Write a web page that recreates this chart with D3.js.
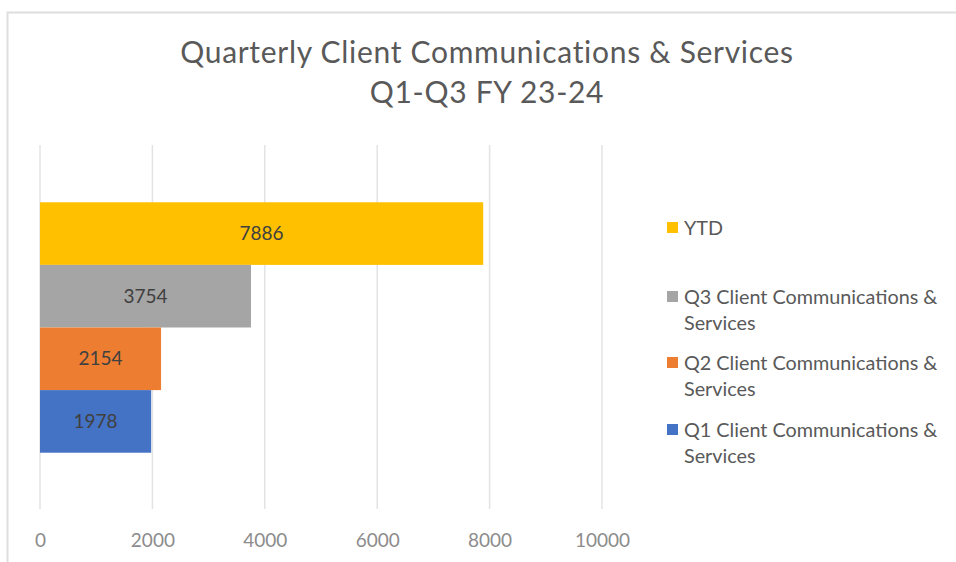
<!DOCTYPE html>
<html>
<head>
<meta charset="utf-8">
<script src="https://cdn.jsdelivr.net/npm/d3@7"></script>
<style>
  body { margin: 0; background: #fff; }
  svg { display: block; font-family: Lato, "Open Sans", sans-serif; }
</style>
</head>
<body>
<div id="chart"></div>
<script>
// Chart data
const titleLines = ["Quarterly Client Communications & Services", "Q1-Q3 FY 23-24"];
const categories = ["Client Communications & Services"];
const seriesNames = ["YTD", "Q3 Client Communications & Services", "Q2 Client Communications & Services", "Q1 Client Communications & Services"];
const seriesValues = [7886, 3754, 2154, 1978];
const seriesColors = ["#FFC000", "#A5A5A5", "#ED7D31", "#4472C4"];
const xTicks = [0, 2000, 4000, 6000, 8000, 10000];

const width = 956, height = 562;
const margin = { top: 145, right: 354, bottom: 50, left: 40 };
const plotW = width - margin.left - margin.right;
const plotH = height - margin.top - margin.bottom;

const svg = d3.select("#chart").append("svg")
    .attr("width", width)
    .attr("height", height);

// chart border (runs off the right and bottom edges)
svg.append("rect")
    .attr("x", 7.5).attr("y", 12.5)
    .attr("width", 1000).attr("height", 600)
    .attr("fill", "none")
    .attr("stroke", "#dedede")
    .attr("stroke-width", 2);

// title
svg.append("text")
    .attr("text-anchor", "middle")
    .attr("fill", "#595959")
    .style("font-size", "30px")
    .style("letter-spacing", "0.7px")
    .selectAll("tspan")
    .data(titleLines)
    .enter()
    .append("tspan")
    .attr("x", 487)
    .attr("y", (d, i) => 63 + i * 40)
    .text(d => d);

const g = svg.append("g")
    .attr("transform", `translate(${margin.left},${margin.top})`);

const xScale = d3.scaleLinear()
    .domain([0, 10000])
    .range([0, 562]);

// one category, series side by side inside it
const yCat = d3.scaleBand()
    .domain(categories)
    .range([0, plotH - 2]);

const ySeries = d3.scaleBand()
    .domain(seriesNames)
    .range([0, yCat.bandwidth()])
    .paddingOuter(0.915);

// gridlines
g.selectAll(".grid")
    .data(xTicks)
    .enter()
    .append("line")
    .attr("class", "grid")
    .attr("x1", d => xScale(d))
    .attr("x2", d => xScale(d))
    .attr("y1", 0)
    .attr("y2", plotH - 3)
    .attr("stroke", "#e3e3e3")
    .attr("stroke-width", 1.5);

// x axis labels
const xAxis = d3.axisBottom(xScale)
    .tickValues(xTicks)
    .tickSize(0)
    .tickPadding(0)
    .tickFormat(d3.format("d"));

const axisG = g.append("g")
    .attr("transform", `translate(0,${plotH + 28})`)
    .call(xAxis);
axisG.select(".domain").remove();
axisG.selectAll("text")
    .attr("fill", "#8c8c8c")
    .attr("dy", "0.35em")
    .style("font-size", "19px")
    .style("font-family", "Lato, 'Open Sans', sans-serif");

// bars
const data = seriesNames.map((name, i) => ({ name, value: seriesValues[i], color: seriesColors[i] }));

const bars = g.append("g")
    .attr("transform", `translate(0,${yCat(categories[0])})`);

bars.selectAll(".bar")
    .data(data)
    .enter()
    .append("rect")
    .attr("class", "bar")
    .attr("x", xScale(0))
    .attr("y", d => ySeries(d.name))
    .attr("width", d => xScale(d.value) - xScale(0))
    .attr("height", ySeries.bandwidth())
    .attr("fill", d => d.color);

bars.selectAll(".label")
    .data(data)
    .enter()
    .append("text")
    .attr("class", "label")
    .attr("x", d => xScale(d.value / 2))
    .attr("y", d => ySeries(d.name) + ySeries.bandwidth() / 2)
    .attr("dy", "0.35em")
    .attr("text-anchor", "middle")
    .attr("fill", "#404040")
    .style("font-size", "19px")
    .text(d => d.value);

// legend
const legendY = [228, 297, 363, 430];
const legend = svg.append("g");

const items = legend.selectAll(".legend-item")
    .data(data)
    .enter()
    .append("g")
    .attr("class", "legend-item")
    .attr("transform", (d, i) => `translate(667,${legendY[i]})`);

items.append("rect")
    .attr("x", 0)
    .attr("y", -6)
    .attr("width", 11)
    .attr("height", 11)
    .attr("fill", d => d.color);

items.append("text")
    .attr("fill", "#595959")
    .style("font-size", "19.8px")
    .each(function(d) {
        const t = d3.select(this);
        const parts = d.name === "YTD" ? ["YTD"] : [d.name.replace(" Services", ""), "Services"];
        parts.forEach((p, j) => {
            t.append("tspan")
                .attr("x", 17)
                .attr("y", j * 26)
                .attr("dy", "0.35em")
                .text(p);
        });
    });
</script>
</body>
</html>
